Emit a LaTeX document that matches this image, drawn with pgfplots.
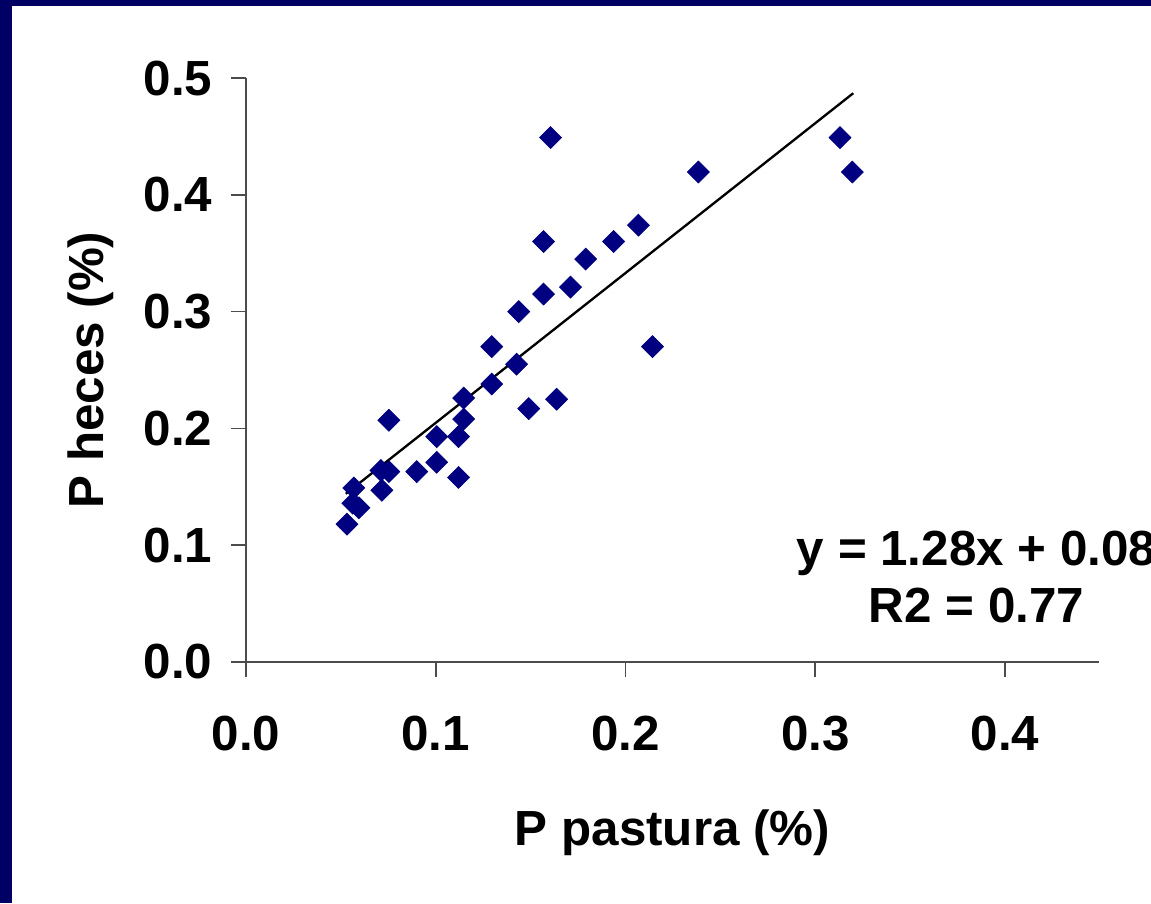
\documentclass[border=0pt]{standalone}
\usepackage{fontspec}
\setmainfont{Liberation Sans}
\usepackage{pgfplots}
\pgfplotsset{compat=1.18}
\definecolor{frame}{RGB}{0,0,100}
\definecolor{pts}{RGB}{0,0,128}

\begin{document}
\begin{tikzpicture}
% slide background: navy edge left and top
\fill[frame] (0pt,0pt) rectangle (345.3pt,270.9pt);
\fill[white] (3.6pt,0pt) rectangle (345.3pt,269.1pt);
\begin{scope}
\clip (3.6pt,0pt) rectangle (345.3pt,269.1pt);
\begin{axis}[
  scale only axis,
  width=255.9pt, height=175.2pt,
  at={(73.8pt,72.3pt)}, anchor=south west,
  xmin=0, xmax=0.4495, ymin=0, ymax=0.5,
  axis x line*=bottom, axis y line*=left,
  axis line style={black!70, line width=0.5pt},
  every tick/.style={black!70, line width=0.5pt},
  tick align=outside, major tick length=4.5pt,
  xtick={0,0.1,0.2,0.3,0.4}, ytick={0,0.1,0.2,0.3,0.4,0.5},
  /pgf/number format/assume math mode=true,
  /pgf/number format/.cd, fixed, fixed zerofill, precision=1, /pgfplots/.cd,
  ticklabel style={font=\fontsize{14.8}{17}\selectfont\bfseries},
  xticklabel style={yshift=-8.1pt},
  yticklabel style={xshift=-2.1pt},
  label style={font=\fontsize{14.8}{17}\selectfont\bfseries},
  xlabel={P pastura (\%)},
  ylabel={P heces (\%)},
  xlabel style={at={(axis description cs:0.5,-0.3134)}, anchor=base},
  ylabel style={at={(axis description cs:-0.1676,0.5)}, anchor=base},
  clip=false,
]
\addplot[only marks, mark=square*, mark size=2.33pt,
  mark options={rotate=45, fill=pts, draw=pts, line width=0.2pt}] coordinates {
  (0.0532,0.118) (0.0563,0.136) (0.0595,0.132) (0.0568,0.149)
  (0.0711,0.164) (0.0753,0.163) (0.0716,0.147) (0.0753,0.207)
  (0.0900,0.163) (0.1005,0.171) (0.1005,0.193) (0.1120,0.193)
  (0.1120,0.158) (0.1147,0.208) (0.1147,0.226) (0.1295,0.238)
  (0.1295,0.270) (0.1426,0.255) (0.1437,0.300) (0.1490,0.217)
  (0.1637,0.225) (0.1568,0.315) (0.1568,0.360) (0.1605,0.449)
  (0.1710,0.321) (0.1790,0.345) (0.1937,0.360) (0.2068,0.374)
  (0.2142,0.270) (0.2384,0.4195) (0.3130,0.449) (0.3195,0.4195)
};
% linear trend line
\addplot[black, line width=0.7pt] coordinates {(0.0526,0.1440) (0.3200,0.4870)};
\node[anchor=base, font=\fontsize{14.8}{17}\selectfont\bfseries]
  at (axis cs:0.385,0.0822) {y = 1.28x + 0.08};
\node[anchor=base, font=\fontsize{14.8}{17}\selectfont\bfseries]
  at (axis cs:0.385,0.0334) {R2 = 0.77};
\end{axis}
\end{scope}
\end{tikzpicture}
\end{document}
